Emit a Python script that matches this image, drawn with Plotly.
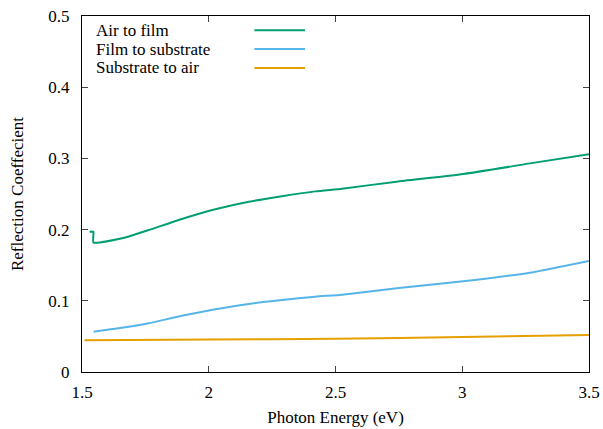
import plotly.graph_objects as go

# Data
energy_air_film = [1.53, 1.545, 1.545, 1.671, 1.763, 1.894, 2.026, 2.158, 2.289, 2.42, 2.526,
                   2.741, 3.004, 3.267, 3.5]
r_air_film = [0.197, 0.197, 0.182, 0.189, 0.1994, 0.2149, 0.2285, 0.239, 0.247, 0.2537, 0.2575,
              0.2673, 0.278, 0.293, 0.306]

energy_film_sub = [1.546, 1.671, 1.763, 1.894, 2.026, 2.158, 2.289, 2.42, 2.526,
                   2.741, 3.004, 3.267, 3.5]
r_film_sub = [0.0566, 0.0627, 0.0684, 0.0791, 0.088, 0.0955, 0.101, 0.1058, 0.1085,
              0.1175, 0.1273, 0.1395, 0.156]

energy_sub_air = [1.51, 2.0, 2.5, 3.0, 3.5]
r_sub_air = [0.0445, 0.0455, 0.0468, 0.049, 0.052]

series_names = ["Air to film", "Film to substrate", "Substrate to air"]
series_colors = ["#009e73", "#56b4e9", "#e69f00"]

x_ticks = [1.5, 2, 2.5, 3, 3.5]
x_tick_labels = ["1.5", "2", "2.5", "3", "3.5"]
y_ticks = [0, 0.1, 0.2, 0.3, 0.4, 0.5]
y_tick_labels = ["0", "0.1", "0.2", "0.3", "0.4", "0.5"]

FONT = "Liberation Serif, Times New Roman, DejaVu Serif, serif"
FS = 17

fig = go.Figure()
for xs, ys, name, col in zip(
    [energy_air_film, energy_film_sub, energy_sub_air],
    [r_air_film, r_film_sub, r_sub_air],
    series_names, series_colors):
    fig.add_trace(go.Scatter(x=xs, y=ys, mode="lines", name=name,
                             line=dict(color=col, width=2, shape="spline", smoothing=0.5),
                             showlegend=False))

# gnuplot-style legend: text on the left, line sample on the right
for i, (name, col) in enumerate(zip(series_names, series_colors)):
    yp = 0.96 - i * 0.053
    fig.add_annotation(x=0.023, y=yp, xref="paper", yref="paper", text=name,
                       showarrow=False, xanchor="left", yanchor="middle",
                       font=dict(family=FONT, size=FS, color="black"))
    fig.add_shape(type="line", xref="paper", yref="paper",
                  x0=0.34, x1=0.44, y0=yp, y1=yp,
                  line=dict(color=col, width=2))

axis_common = dict(showline=True, linecolor="black", linewidth=1.3, mirror="ticks",
                   ticks="inside", ticklen=6, tickcolor="#444", tickwidth=1,
                   showgrid=False, zeroline=False, automargin=False,
                   tickfont=dict(family=FONT, size=FS, color="black"))

fig.update_xaxes(range=[1.5, 3.5], tickvals=x_ticks, ticktext=x_tick_labels,
                 ticklabelstandoff=4,
                 title=dict(text="Photon Energy (eV)", font=dict(family=FONT, size=FS, color="black"), standoff=10),
                 **axis_common)
fig.update_yaxes(range=[0, 0.5], tickvals=y_ticks, ticktext=y_tick_labels,
                 ticklabelstandoff=8,
                 title=dict(text="Reflection Coeffecient", font=dict(family=FONT, size=FS, color="black"), standoff=20),
                 **axis_common)

fig.update_layout(width=603, height=429, margin=dict(l=82, r=14, t=16, b=57),
                  font=dict(family=FONT, size=FS, color="black"),
                  plot_bgcolor="white", paper_bgcolor="white")

fig.write_html("out.html")
